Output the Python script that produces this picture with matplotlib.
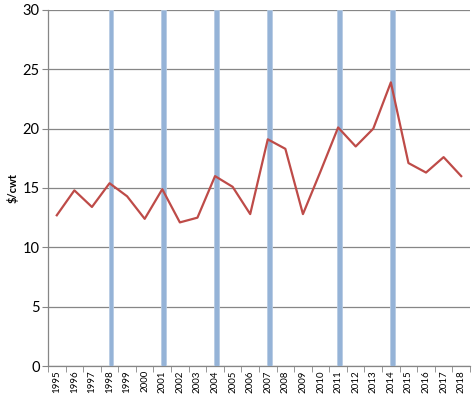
import numpy as np
import matplotlib.pyplot as plt

years = list(range(1995, 2019))
price = [12.7, 14.8, 13.4, 15.4, 14.3, 12.4, 14.9, 12.1, 12.5, 16.0, 15.1, 12.8,
         19.1, 18.3, 12.8, 16.4, 20.1, 18.5, 20.0, 23.9, 17.1, 16.3, 17.6, 16.0]
marked_years = [1998, 2001, 2004, 2007, 2011, 2014]
bar_height = 30

plt.rcParams['font.family'] = ['Lato', 'DejaVu Sans']

fig = plt.figure(figsize=(4.77, 3.99), dpi=100)
ax = fig.add_axes([0.1006, 0.0827, 0.8847, 0.8923])

x = np.arange(len(years))
# bars sit a touch right of the category centre, like in the original
bar_x = [years.index(y) + 0.09 for y in marked_years]
ax.bar(bar_x, [bar_height] * len(bar_x), width=0.27, color='#95B3D7',
       edgecolor='#B8CCE4', linewidth=0.6, zorder=3)
ax.plot(x, price, color='#BE4B48', linewidth=1.6, zorder=4)

ax.set_xlim(-0.5, len(years) - 0.5)
ax.set_ylim(0, 30)
ax.set_yticks(range(0, 31, 5))
ax.yaxis.grid(True, color='#868686', linewidth=0.9, zorder=0)
ax.set_axisbelow(True)

ax.set_xticks(x)
ax.set_xticklabels([str(y) for y in years], rotation=90, fontsize=7)
ax.set_xticks(np.arange(-0.5, len(years)), minor=True)
ax.tick_params(axis='x', which='major', length=0, pad=3)
ax.tick_params(axis='x', which='minor', length=4, color='#868686')
ax.tick_params(axis='y', length=4, color='#868686', labelsize=10.5, pad=2)

for s in ['top', 'right']:
    ax.spines[s].set_visible(False)
for s in ['left', 'bottom']:
    ax.spines[s].set_color('#868686')
    ax.spines[s].set_linewidth(0.9)

ax.set_ylabel('$/cwt', fontsize=8, fontweight='bold', labelpad=3)

fig.savefig('out.png', dpi=100)
